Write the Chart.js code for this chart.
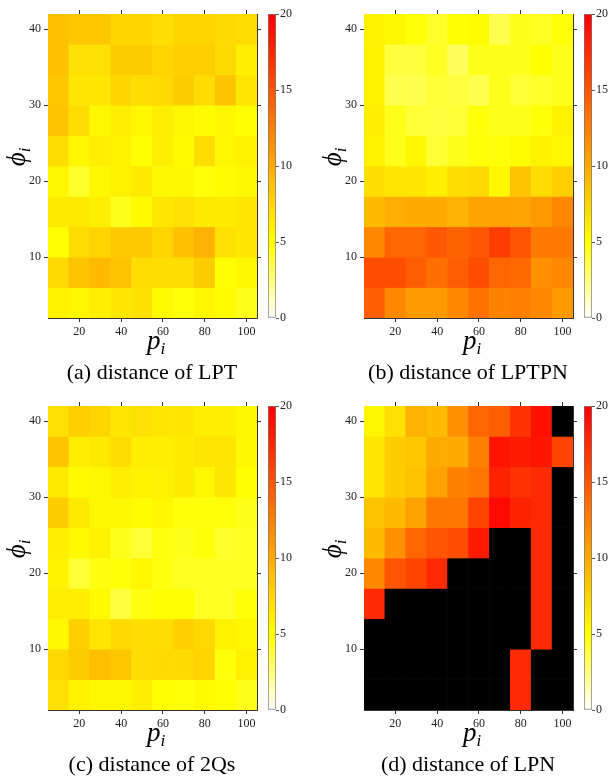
<!DOCTYPE html>
<html>
<head>
<meta charset="utf-8">
<script src="https://cdn.jsdelivr.net/npm/chart.js@4"></script>
<style>
  body { margin: 0; background: #fff; width: 608px; height: 779px; position: relative; overflow: hidden; }
  .panel { position: absolute; width: 304px; height: 390px; }
  .panel canvas { position: absolute; }
  .lbl { position: absolute; font-family: "Liberation Serif", "DejaVu Serif", serif; color: #000; white-space: nowrap; text-align: center; }
  .phi { width: 60px; height: 30px; line-height: 30px; font-size: 27px; font-style: italic; transform: rotate(-90deg); }
  .pee { width: 60px; line-height: 26px; font-size: 27px; font-style: italic; }
  .lbl sub { font-size: 17px; vertical-align: -5px; font-style: italic; }
  .cap { width: 304px; font-size: 22px; line-height: 22px; }
</style>
</head>
<body>
<script>
// p_i columns, phi_i rows (top row first)
const pValues = [10, 20, 30, 40, 50, 60, 70, 80, 90, 100];
const phiRows = [40, 36, 32, 28, 24, 20, 16, 12, 8, 4];
const xTicks = [20, 40, 60, 80, 100];
const yTicks = [10, 20, 30, 40];
const cbarTicks = [0, 5, 10, 15, 20];

// distance values, one row per phi (same order as phiRows); null = black cell
const distLPT = [
  [8.6, 8.3, 8.3, 7.5, 7.5, 7.0, 7.5, 7.5, 7.2, 7.0],
  [8.7, 6.8, 6.8, 8.0, 8.0, 7.5, 7.8, 7.8, 7.2, 6.0],
  [8.3, 6.5, 6.5, 7.5, 7.0, 7.2, 8.0, 7.0, 8.5, 6.5],
  [8.5, 7.0, 5.5, 6.0, 5.5, 6.0, 5.5, 5.2, 5.5, 5.0],
  [7.0, 5.5, 6.0, 5.8, 5.0, 6.0, 5.3, 7.0, 5.5, 5.8],
  [5.5, 4.2, 5.5, 5.8, 6.3, 5.5, 5.5, 4.8, 5.2, 5.5],
  [6.2, 6.3, 6.0, 4.5, 5.3, 6.5, 6.8, 6.3, 6.2, 6.5],
  [5.0, 7.0, 7.5, 8.2, 8.2, 7.5, 8.7, 9.5, 6.8, 6.5],
  [7.2, 8.5, 9.0, 8.5, 7.0, 7.0, 7.0, 8.0, 5.0, 5.5],
  [5.8, 5.5, 6.0, 6.5, 6.7, 5.3, 4.8, 5.5, 5.2, 4.5]
];
const distLPTPN = [
  [5.8, 5.5, 4.8, 4.2, 5.0, 5.2, 3.5, 4.5, 4.3, 4.8],
  [5.8, 3.8, 3.8, 4.3, 3.2, 4.5, 4.5, 4.5, 5.0, 4.5],
  [5.8, 3.5, 3.5, 4.0, 3.8, 3.5, 4.5, 4.0, 4.2, 4.5],
  [6.0, 4.5, 4.0, 3.8, 4.0, 4.8, 4.5, 4.5, 4.8, 5.8],
  [5.8, 4.5, 5.5, 4.0, 4.5, 4.8, 4.8, 5.2, 5.8, 5.5],
  [7.0, 6.5, 6.5, 6.0, 7.0, 7.3, 5.5, 8.5, 7.0, 7.8],
  [9.0, 9.8, 10.0, 10.0, 9.5, 10.5, 10.5, 10.3, 11.0, 12.0],
  [12.0, 14.0, 14.0, 14.8, 14.2, 14.8, 16.5, 15.0, 12.8, 12.8],
  [15.5, 15.5, 14.5, 13.5, 14.5, 15.5, 14.0, 13.8, 11.5, 12.0],
  [14.5, 12.0, 11.0, 11.0, 12.0, 13.3, 12.3, 12.5, 12.0, 11.0]
];
const dist2Qs = [
  [6.8, 7.8, 7.5, 6.5, 6.8, 6.5, 6.5, 6.0, 6.0, 5.5],
  [8.5, 6.0, 6.3, 7.0, 6.0, 6.0, 6.2, 6.5, 6.5, 5.5],
  [6.3, 5.3, 5.5, 6.0, 5.8, 5.8, 6.2, 5.5, 6.5, 5.0],
  [8.0, 6.3, 5.5, 5.5, 5.2, 5.5, 4.8, 4.8, 4.8, 4.5],
  [6.0, 5.3, 5.8, 4.5, 4.0, 4.7, 4.5, 4.8, 4.2, 4.3],
  [5.8, 4.0, 4.7, 4.8, 5.5, 4.7, 4.3, 4.3, 4.3, 4.3],
  [6.0, 6.0, 5.3, 3.8, 4.7, 5.0, 5.0, 4.3, 4.3, 4.8],
  [5.5, 7.8, 6.5, 7.3, 7.0, 7.0, 7.8, 7.3, 5.8, 5.5],
  [7.3, 8.0, 8.8, 8.3, 7.0, 7.2, 7.2, 7.5, 4.8, 5.8],
  [6.8, 5.8, 5.5, 5.5, 6.0, 5.0, 4.8, 5.3, 5.0, 4.5]
];
const distLPN = [
  [5.6, 6.8, 9.5, 9.0, 11.5, 14.0, 14.5, 17.0, 19.0, null],
  [6.5, 8.0, 8.3, 10.0, 10.0, 12.5, 18.8, 18.5, 18.8, 16.0],
  [6.5, 8.0, 8.5, 10.5, 12.3, 13.0, 18.0, 17.0, 17.5, null],
  [8.5, 9.0, 10.5, 13.0, 13.0, 16.0, 19.5, 18.0, 17.5, null],
  [9.0, 11.5, 14.0, 15.0, 15.5, 18.5, null, null, 17.5, null],
  [12.0, 15.0, 16.0, 17.5, null, null, null, null, 17.5, null],
  [17.5, null, null, null, null, null, null, null, 17.5, null],
  [null, null, null, null, null, null, null, null, 17.5, null],
  [null, null, null, null, null, null, null, 17.5, null, null],
  [null, null, null, null, null, null, null, 17.5, null, null]
];

const CELL_W = 10, CELL_H = 4;
const FONT = "Liberation Serif";

function heatColor(v) {
  if (v == null) return "#000";
  v = Math.max(0, Math.min(20, v));
  if (v < 5) return `rgb(255,255,${Math.round(255 * (1 - v / 5))})`;
  return `rgb(255,${Math.round(255 * (20 - v) / 15)},0)`;
}

function frameAxis(axis, pos, min, max, ticks, showLabels, size) {
  return {
    type: "linear", axis, position: pos, min, max, offset: false,
    afterBuildTicks: s => { s.ticks = ticks.map(v => ({ value: v })); },
    afterFit: s => { if (axis === "x") s.height = size; else s.width = size; },
    grid: { drawOnChartArea: false, drawTicks: true, tickLength: 4, color: "#333", offset: false },
    border: { display: true, color: "#333", width: 1 },
    ticks: { display: showLabels, color: "#222", padding: 3, maxRotation: 0, autoSkip: false,
             font: { family: FONT, size: 12 } }
  };
}

function makeHeatmap(canvas, values) {
  const datasets = phiRows.map((phi, r) => ({
    data: pValues.map(p => ({ x: p, y: [phi - CELL_H / 2, phi + CELL_H / 2] })),
    backgroundColor: values[r].map(heatColor),
    borderWidth: 0,
    grouped: false,
    barPercentage: 1,
    categoryPercentage: 1,
    xAxisID: "x",
    yAxisID: "y"
  }));
  const xMin = pValues[0] - CELL_W / 2, xMax = pValues[pValues.length - 1] + CELL_W / 2;
  const yMin = phiRows[phiRows.length - 1] - CELL_H / 2, yMax = phiRows[0] + CELL_H / 2;
  new Chart(canvas, {
    type: "bar",
    data: { datasets },
    options: {
      responsive: false, animation: false,
      layout: { padding: 0 },
      plugins: { legend: { display: false }, tooltip: { enabled: false } },
      scales: {
        x: frameAxis("x", "bottom", xMin, xMax, xTicks, true, 22),
        xTop: frameAxis("x", "top", xMin, xMax, xTicks, false, 14),
        y: frameAxis("y", "left", yMin, yMax, yTicks, true, 48),
        yRight: frameAxis("y", "right", yMin, yMax, yTicks, false, 5)
      }
    }
  });
}

function makeColorbar(canvas) {
  const lo = cbarTicks[0], hi = cbarTicks[cbarTicks.length - 1];
  new Chart(canvas, {
    type: "bar",
    data: {
      labels: [""],
      datasets: [{
        data: [[lo, hi]],
        backgroundColor: ctx => {
          const ch = ctx.chart, y = ch.scales.y;
          if (!ch.chartArea || !y) return "transparent";
          const g = ch.ctx.createLinearGradient(0, y.getPixelForValue(lo), 0, y.getPixelForValue(hi));
          cbarTicks.forEach(v => g.addColorStop((v - lo) / (hi - lo), heatColor(v)));
          return g;
        },
        borderColor: "#777", borderWidth: 1, borderSkipped: false,
        barPercentage: 1, categoryPercentage: 1
      }]
    },
    options: {
      responsive: false, animation: false,
      layout: { padding: { left: 6, top: 14, bottom: 22, right: 0 } },
      plugins: { legend: { display: false }, tooltip: { enabled: false } },
      scales: {
        x: { display: false },
        y: {
          position: "right", min: lo, max: hi,
          afterBuildTicks: s => { s.ticks = cbarTicks.map(v => ({ value: v })); },
          afterFit: s => { s.width = 26; },
          grid: { drawOnChartArea: false, tickLength: 3, color: "#555" },
          border: { display: false },
          ticks: { padding: 1, color: "#222", font: { family: FONT, size: 12 } }
        }
      }
    }
  });
}

const panels = [
  { values: distLPT, caption: "(a) distance of LPT", left: 0, top: 0 },
  { values: distLPTPN, caption: "(b) distance of LPTPN", left: 316, top: 0 },
  { values: dist2Qs, caption: "(c) distance of 2Qs", left: 0, top: 392 },
  { values: distLPN, caption: "(d) distance of LPN", left: 316, top: 392 }
];

panels.forEach(pn => {
  const div = document.createElement("div");
  div.className = "panel";
  div.style.left = pn.left + "px";
  div.style.top = pn.top + "px";
  div.innerHTML =
    '<canvas class="hm" width="262" height="340" style="left:0;top:0"></canvas>' +
    '<canvas class="cb" width="40" height="340" style="left:262px;top:0"></canvas>' +
    '<div class="lbl phi" style="left:-14px;top:142px"><i>ϕ</i><sub>i</sub></div>' +
    '<div class="lbl pee" style="left:126px;top:327px"><i>p</i><sub>i</sub></div>' +
    '<div class="lbl cap" style="left:0;top:361px"></div>';
  div.querySelector(".cap").textContent = pn.caption;
  document.body.appendChild(div);
  makeHeatmap(div.querySelector(".hm"), pn.values);
  makeColorbar(div.querySelector(".cb"));
});
</script>
</body>
</html>
